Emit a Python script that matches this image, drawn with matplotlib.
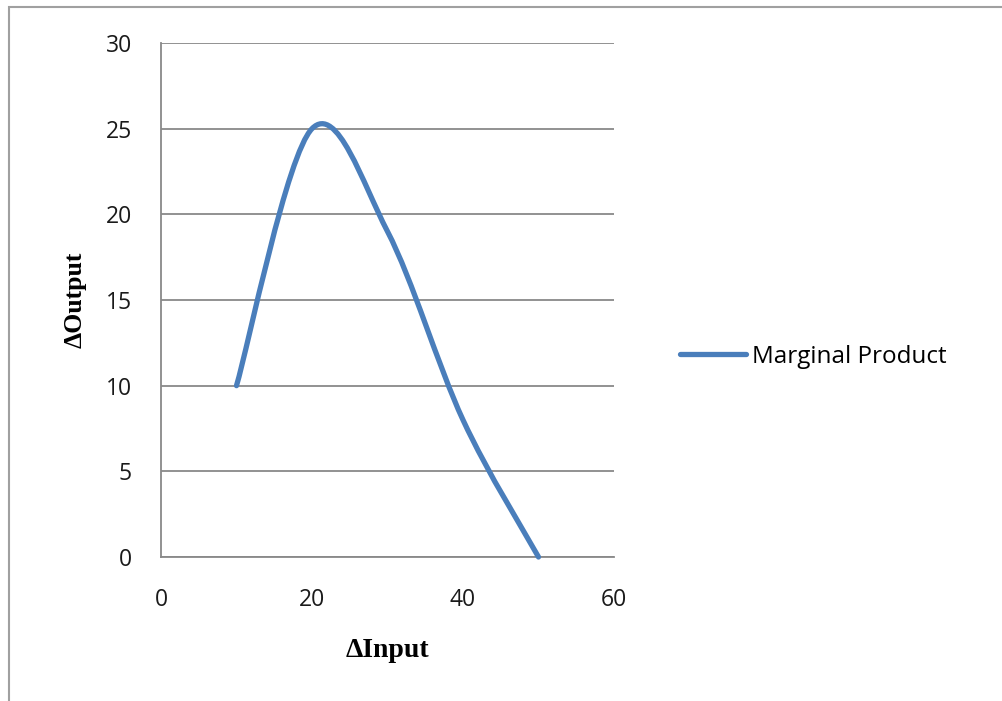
import numpy as np
import matplotlib
matplotlib.use("Agg")
import matplotlib.pyplot as plt
from matplotlib.path import Path
from matplotlib.patches import PathPatch, Rectangle
from matplotlib.lines import Line2D

# data
inputs = [10, 20, 30, 40, 50]
marginal = [10, 25, 19, 8, 0]
series_name = "Marginal Product"
xticks = [0, 20, 40, 60]
yticks = [0, 5, 10, 15, 20, 25, 30]

blue = "#4A7EBB"
grid_col = "#898989"

plt.rcParams['font.family'] = ['Open Sans', 'DejaVu Sans']

fig = plt.figure(figsize=(10.02, 7.01), dpi=100)
W, H = 1002, 701

# outer chart frame (partly cut off at right and bottom)
fig.patches.append(Rectangle((9 / W, -0.05), 1.1, (701 - 7) / H + 0.05,
                             transform=fig.transFigure, fill=False,
                             edgecolor="#a0a0a0", linewidth=1.5))

ax = fig.add_axes([161 / W, (701 - 557) / H, 453 / W, 514 / H])
ax.set_xlim(0, 60)
ax.set_ylim(0, 30)

# Excel-like smoothed line: cubic bezier through the points
pts = np.column_stack([inputs, marginal]).astype(float)
ext = np.vstack([pts[0], pts, pts[-1]])
verts = [tuple(pts[0])]
codes = [Path.MOVETO]
for i in range(len(pts) - 1):
    p0, p1, p2, p3 = ext[i], ext[i + 1], ext[i + 2], ext[i + 3]
    c1 = p1 + (p2 - p0) / 6
    c2 = p2 - (p3 - p1) / 6
    verts += [tuple(c1), tuple(c2), tuple(p2)]
    codes += [Path.CURVE4] * 3
ax.add_patch(PathPatch(Path(verts, codes), facecolor="none", edgecolor=blue,
                       linewidth=3.8, capstyle="round", joinstyle="round",
                       zorder=3, clip_on=False))

ax.set_xticks(xticks)
ax.set_yticks(yticks)
ax.grid(axis="y", color=grid_col, linewidth=1.3)
ax.set_axisbelow(True)
for s in ["top", "right"]:
    ax.spines[s].set_visible(False)
for s in ["left", "bottom"]:
    ax.spines[s].set_color(grid_col)
    ax.spines[s].set_linewidth(1.3)
ax.tick_params(length=0, labelsize=16.5, colors="#1a1a1a")
ax.tick_params(axis="y", pad=21)
ax.tick_params(axis="x", pad=22)

ax.set_xlabel("ΔInput", family=["Liberation Serif", "DejaVu Serif"],
              fontweight="bold", fontsize=20, labelpad=19)
ax.set_ylabel("ΔOutput", family=["Liberation Serif", "DejaVu Serif"],
              fontweight="bold", fontsize=18.5, labelpad=14)

handle = Line2D([], [], color=blue, linewidth=3.8, solid_capstyle="round")
fig.legend([handle], [series_name], loc="center left",
           bbox_to_anchor=(680 / W, 1 - 357 / H), frameon=False,
           fontsize=17.5, handlelength=2.7, handletextpad=0.25,
           borderaxespad=0, borderpad=0)

fig.savefig("out.png", dpi=100)
